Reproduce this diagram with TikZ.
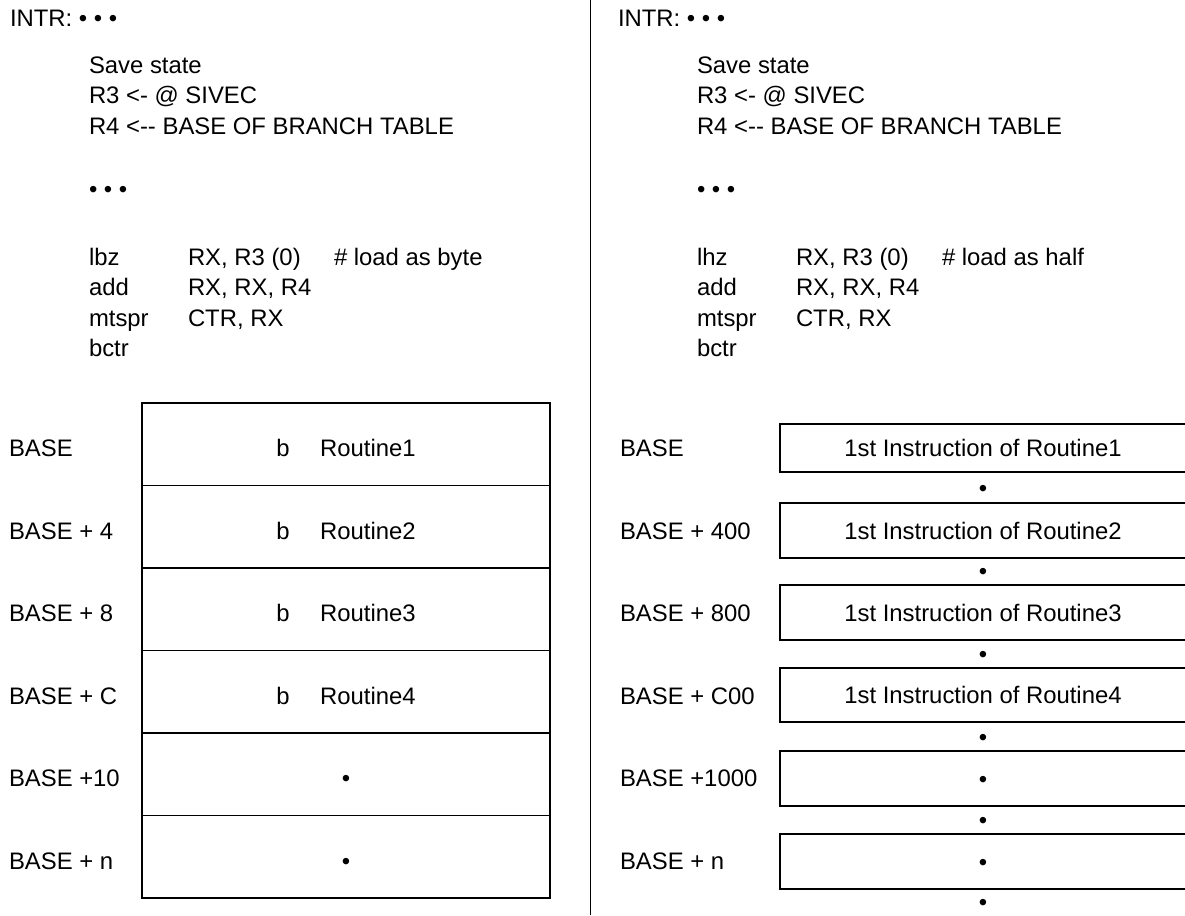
\documentclass[tikz,border=0pt]{standalone}
\usepackage{fontspec}
\setmainfont{Liberation Sans}[Ligatures=TeXOff]
\begin{document}
\begin{tikzpicture}[x=0.75pt,y=-0.75pt,
  every node/.style={font=\fontsize{17.9pt}{21pt}\selectfont, inner sep=0pt, outer sep=0pt},
  txt/.style={anchor=base west},
  bul/.style={anchor=base},
  cell/.style={draw, line width=1.4pt, minimum width=306pt, minimum height=61.875pt, text height=18.4pt, text depth=0pt},
  rbox/.style={draw, line width=1.4pt, minimum width=304.5pt, text height=12.8pt, text depth=0pt},
  divider/.style={line width=1.4pt}]
\useasboundingbox (0,0) rectangle (1185,915);

% ---------- left column code ----------
\node[txt] (intrL) at (10,26.5) {INTR: • • •};
\node[txt] (saveL) at (89,73.5) {Save state};
\node[txt] (r3L) at (89,103.5) {R3 <- @ SIVEC};
\node[txt] (r4L) at (89,134) {R4 <-- BASE OF BRANCH TABLE};
\node[txt] (dotsL) at (89,197.5) {• • •};
\node[txt] (lbzL) at (89,265) {lbz};
\node[txt] (lbzLa) at (188,265) {RX, R3 (0)};
\node[txt] (lbzLc) at (334,265) {\# load as byte};
\node[txt] (addL) at (89,295.5) {add};
\node[txt] (addLa) at (188,295.5) {RX, RX, R4};
\node[txt] (mtL) at (89,326) {mtspr};
\node[txt] (mtLa) at (188,326) {CTR, RX};
\node[txt] (bctrL) at (89,356) {bctr};

% ---------- right column code ----------
\node[txt] (intrR) at (618,26.5) {INTR: • • •};
\node[txt] (saveR) at (697,73.5) {Save state};
\node[txt] (r3R) at (697,103.5) {R3 <- @ SIVEC};
\node[txt] (r4R) at (697,134) {R4 <-- BASE OF BRANCH TABLE};
\node[txt] (dotsR) at (697,197.5) {• • •};
\node[txt] (lhzR) at (697,265) {lhz};
\node[txt] (lhzRa) at (796,265) {RX, R3 (0)};
\node[txt] (lhzRc) at (942,265) {\# load as half};
\node[txt] (addR) at (697,295.5) {add};
\node[txt] (addRa) at (796,295.5) {RX, RX, R4};
\node[txt] (mtR) at (697,326) {mtspr};
\node[txt] (mtRa) at (796,326) {CTR, RX};
\node[txt] (bctrR) at (697,356) {bctr};

% ---------- divider ----------
\coordinate (divT) at (590.5,0);
\coordinate (divB) at (590.5,915);
\draw[divider] (divT) -- (divB);

% ---------- left table ----------
\node[txt] (lab1) at (9,456.5) {BASE};
\node[txt] (lab2) at (9,539) {BASE + 4};
\node[txt] (lab3) at (9,621.5) {BASE + 8};
\node[txt] (lab4) at (9,704) {BASE + C};
\node[txt] (lab5) at (9,786.5) {BASE +10};
\node[txt] (lab6) at (9,869) {BASE + n};
\node[cell] (c1) at (346,444.25) {b\hspace{23pt}Routine1};
\node[cell] (c2) at (346,526.75) {b\hspace{23pt}Routine2};
\node[cell] (c3) at (346,609.25) {b\hspace{23pt}Routine3};
\node[cell] (c4) at (346,691.75) {b\hspace{23pt}Routine4};
\node[cell] (c5) at (346,774.25) {•};
\node[cell] (c6) at (346,856.75) {•};

% ---------- right table ----------
\node[txt] (rlab1) at (620,456.5) {BASE};
\node[txt] (rlab2) at (620,539) {BASE + 400};
\node[txt] (rlab3) at (620,621.5) {BASE + 800};
\node[txt] (rlab4) at (620,704) {BASE + C00};
\node[txt] (rlab5) at (620,786.5) {BASE +1000};
\node[txt] (rlab6) at (620,869) {BASE + n};
\node[rbox, minimum height=36pt] (b1) at (983,448) {1st Instruction of Routine1};
\node[rbox, minimum height=41.25pt] (b2) at (983,530.5) {1st Instruction of Routine2};
\node[rbox, minimum height=41.25pt] (b3) at (983,612.5) {1st Instruction of Routine3};
\node[rbox, minimum height=40.5pt] (b4) at (983,695) {1st Instruction of Routine4};
\node[rbox, minimum height=41.25pt] (b5) at (983,778.5) {•};
\node[rbox, minimum height=41.25pt] (b6) at (983,861.5) {•};
\node[bul] (d1) at (983,496) {•};
\node[bul] (d2) at (983,579.5) {•};
\node[bul] (d3) at (983,662.5) {•};
\node[bul] (d4) at (983,745.5) {•};
\node[bul] (d5) at (983,828.5) {•};
\node[bul] (d6) at (983,910.5) {•};
\end{tikzpicture}
\end{document}
